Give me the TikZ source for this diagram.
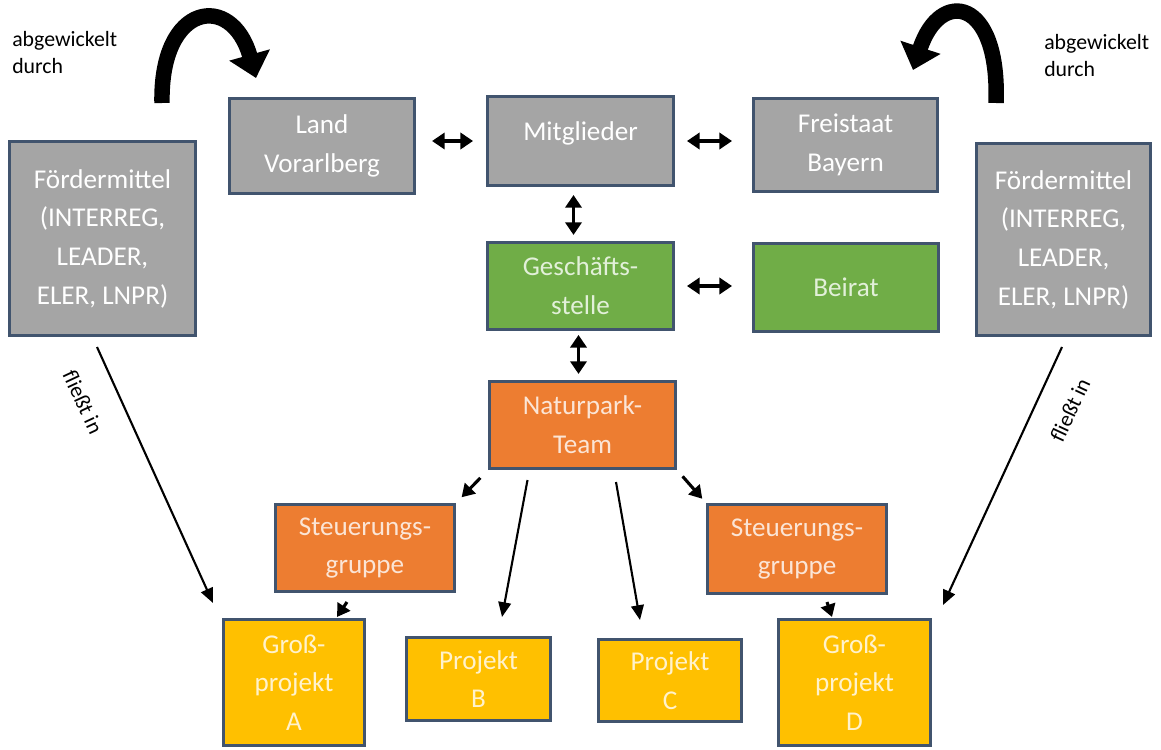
\documentclass[tikz,border=0pt]{standalone}
\usepackage{fontspec}
\setmainfont{Carlito}
\usetikzlibrary{arrows.meta,calc}
\definecolor{rahmen}{RGB}{65,84,110}
\definecolor{boxgrau}{RGB}{165,165,165}
\definecolor{boxgruen}{RGB}{112,173,71}
\definecolor{boxorange}{RGB}{237,125,49}
\definecolor{boxgelb}{RGB}{255,192,0}
\definecolor{textgruen}{RGB}{226,240,217}
\definecolor{textorange}{RGB}{251,229,214}
\definecolor{textgelb}{RGB}{255,242,204}

\begin{document}
\begin{tikzpicture}[x=0.025cm, y=-0.025cm,
   box/.style={draw=rahmen, line width=2pt, inner sep=0pt, align=center, font=\fontsize{19.3}{27.5}\selectfont},
   boxsize/.style 2 args={minimum width=#1*0.025cm-2pt, minimum height=#2*0.025cm-2pt},
   grau/.style={box, fill=boxgrau, text=white},
   gruen/.style={box, fill=boxgruen, text=textgruen},
   orangebox/.style={box, fill=boxorange, text=textorange},
   gelb/.style={box, fill=boxgelb, text=textgelb},
   notiz/.style={font=\fontsize{15.5}{19.2}\selectfont, inner sep=0pt},
   doppel/.style={{Triangle[length=9pt,width=11.5pt]}-{Triangle[length=9pt,width=11.5pt]}, line width=2.2pt},
   kurz/.style={-{Triangle[length=9pt,width=10.5pt]}, line width=2.2pt},
   pfeil/.style={-{Triangle[length=10.5pt,width=9pt]}, line width=1.5pt},
   bogen/.style={-{Triangle[length=17pt,width=29pt]}, line width=11pt}]
   \useasboundingbox (0,0) rectangle (1161,749);
   \node[grau, boxsize={189}{197}] (foerderL) at (102.5,238.5) {Fördermittel\\(INTERREG,\\LEADER,\\ELER, LNPR)};
   \node[grau, boxsize={177}{195}] (foerderR) at (1063.5,239.5) {Fördermittel\\(INTERREG,\\LEADER,\\ELER, LNPR)};
   \node[grau, boxsize={188}{98}] (land) at (322,146) {Land\\Vorarlberg};
   \node[grau, boxsize={189}{92}, text depth=14pt] (mitglieder) at (580.5,141) {Mitglieder};
   \node[grau, boxsize={187}{96}] (freistaat) at (845.5,145) {Freistaat\\Bayern};
   \node[gruen, boxsize={189}{90}] (gesch) at (580.5,286) {Geschäfts-\\stelle};
   \node[gruen, boxsize={188}{91}] (beirat) at (846,287.5) {Beirat};
   \node[orangebox, boxsize={189}{90}] (naturpark) at (582.5,425) {Naturpark-\\Team};
   \node[orangebox, boxsize={182}{90}] (steuerL) at (365,548) {Steuerungs-\\gruppe};
   \node[orangebox, boxsize={182}{92}] (steuerR) at (797,549) {Steuerungs-\\gruppe};
   \node[gelb, boxsize={144}{129}] (grossA) at (294,682.5) {Groß-\\projekt\\A};
   \node[gelb, boxsize={147}{86}] (projB) at (478.5,679) {Projekt\\B};
   \node[gelb, boxsize={146}{85}] (projC) at (670,680.5) {Projekt\\C};
   \node[gelb, boxsize={155}{129}] (grossD) at (854.5,682.5) {Groß-\\projekt\\D};

   \node[notiz, anchor=north west, align=left] (abwL) at (12,31) {abgewickelt\\durch};
   \node[notiz, anchor=north west, align=left] (abwR) at (1044,34) {abgewickelt\\durch};
   \node[notiz, rotate=-65] (fliesstL) at (83,402) {fließt in};
   \node[notiz, rotate=65] (fliesstR) at (1070,410) {fließt in};

   \coordinate (bogenLstart) at (162,103);
   \coordinate (bogenLend) at (256,78);
   \coordinate (bogenRstart) at (996,103);
   \coordinate (bogenRend) at (913,70);
   \draw[bogen] (bogenLstart) .. controls (160,2) and (232,-8) .. (bogenLend);
   \draw[bogen] (bogenRstart) .. controls (1000,-3) and (940,-12) .. (bogenRend);

   \draw[doppel, shorten <=11.4pt, shorten >=9.2pt] (land.east |- mitglieder.west) -- (mitglieder.west);
   \draw[doppel, shorten <=8.5pt, shorten >=14.2pt] (mitglieder.east) -- (mitglieder.east -| freistaat.west);
   \draw[doppel, shorten <=5.7pt, shorten >=4.3pt] ($(mitglieder.south)+(-7,0)$) -- ($(gesch.north)+(-7,0)$);
   \draw[doppel, shorten <=8.5pt, shorten >=14.2pt] (gesch.east) -- (gesch.east -| beirat.west);
   \draw[doppel, shorten <=2.8pt, shorten >=4.3pt] ($(gesch.south)+(-2,0)$) -- ($(naturpark.north)+(-4,0)$);

   \draw[kurz, shorten <=7.8pt, shorten >=5.7pt] (naturpark.south west) -- (steuerL.north east);
   \draw[kurz, shorten <=6pt, shorten >=4pt] (naturpark.south east) -- (steuerR.north west);
   \draw[pfeil] ($(naturpark.south)+(-55,10)$) -- ($(projB.north)+(23.5,-19)$);
   \draw[pfeil] ($(naturpark.south)+(33.5,12)$) -- ($(projC.north)+(-30,-18)$);
   \draw[kurz] ($(steuerL.south)+(-18,9)$) -- ($(grossA.north)+(43,-1)$);
   \draw[kurz] ($(steuerR.south)+(30,7)$) -- ($(grossD.north)+(-22.5,-1)$);
   \draw[pfeil] ($(foerderL.south)+(-5.5,10)$) -- ($(grossA.north west)+(-9,-15)$);
   \draw[pfeil] ($(foerderR.south)+(-1.5,10)$) -- ($(grossD.north east)+(11,-13)$);
\end{tikzpicture}
\end{document}
